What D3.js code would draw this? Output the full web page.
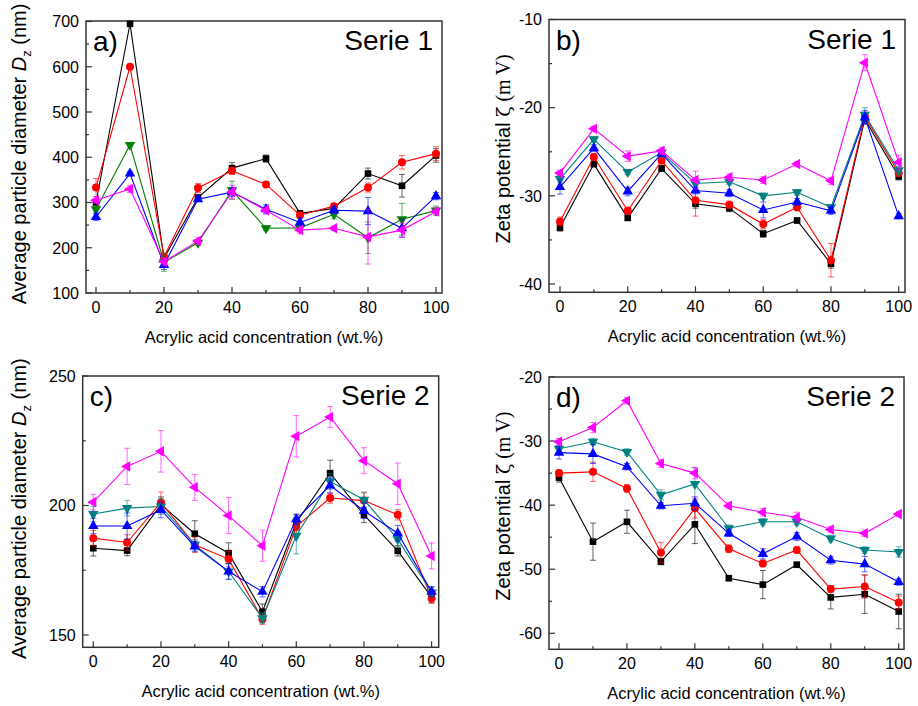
<!DOCTYPE html>
<html>
<head>
<meta charset="utf-8">
<script src="https://cdn.jsdelivr.net/npm/d3@7"></script>
<style>
  body { margin: 0; background: #fff; }
  svg { font-family: "Liberation Sans", Arial, sans-serif; }
</style>
</head>
<body>
<svg id="chart" width="918" height="706"></svg>
<script>
// acrylic acid concentration (wt.%)
const conc = [0, 10, 20, 30, 40, 50, 60, 70, 80, 90, 100]

// ---- a) Serie 1 particle diameter (nm)
const a_black = [300, 695, 177, 311, 376, 397, 276, 287, 364, 337, 404]
const a_red = [333, 600, 180, 332, 370, 340, 272, 292, 333, 389, 408]
const a_green = [285, 427, 168, 211, 327, 243, 244, 274, 222, 263, 282]
const a_blue = [268, 364, 162, 307, 323, 285, 256, 283, 281, 243, 314]
const a_magenta = [305, 330, 169, 215, 323, 283, 239, 243, 224, 239, 280]
const a_black_err = [8, 5, 5, 5, 12, 8, 6, 5, 12, 25, 15]
const a_red_err = [20, 5, 5, 10, 8, 5, 5, 5, 10, 15, 15]
const a_green_err = [8, 5, 20, 5, 20, 5, 5, 10, 35, 35, 10]
const a_blue_err = [8, 5, 10, 5, 10, 10, 10, 8, 30, 20, 8]
const a_magenta_err = [8, 8, 8, 8, 15, 8, 8, 5, 60, 15, 8]

// ---- b) Serie 1 zeta potential (mV)
const b_black = [-33.6, -26.4, -32.5, -26.9, -30.9, -31.4, -34.3, -32.8, -37.7, -21.3, -27.8]
const b_red = [-32.9, -25.6, -31.7, -26.0, -30.5, -31.0, -33.2, -31.3, -37.3, -21.0, -27.4]
const b_teal = [-28.1, -23.6, -27.3, -25.1, -28.6, -28.4, -30.0, -29.6, -31.3, -20.8, -27.1]
const b_blue = [-29.0, -24.6, -29.5, -25.2, -29.4, -29.7, -31.6, -30.7, -31.7, -21.1, -32.3]
const b_magenta = [-27.4, -22.4, -25.5, -24.9, -28.2, -27.9, -28.2, -26.4, -28.3, -14.9, -26.2]
const b_black_err = [0.4, 0.3, 0.3, 0.3, 0.5, 0.4, 0.4, 0.3, 0.5, 0.5, 0.4]
const b_red_err = [0.5, 0.4, 0.4, 0.4, 1.8, 0.4, 0.5, 0.4, 1.9, 0.5, 0.4]
const b_teal_err = [0.4, 0.3, 0.3, 0.3, 0.4, 0.3, 0.3, 0.3, 0.3, 0.8, 0.4]
const b_blue_err = [0.8, 0.4, 0.5, 0.3, 0.4, 0.4, 0.9, 0.4, 0.4, 0.8, 0.3]
const b_magenta_err = [0.3, 0.3, 0.6, 0.4, 1.0, 0.4, 0.4, 0.3, 0.4, 0.9, 0.8]

// ---- c) Serie 2 particle diameter (nm)
const c_black = [183.5, 182.6, 200.3, 189.1, 181.6, 159.0, 193.4, 212.5, 196.4, 182.5, 164.6]
const c_red = [187.4, 185.7, 201.2, 184.8, 179.3, 156.1, 191.9, 202.9, 201.9, 196.4, 164.2]
const c_teal = [196.7, 199.0, 199.6, 184.8, 174.5, 156.5, 188.3, 209.3, 202.2, 187.0, 166.4]
const c_blue = [192.1, 192.1, 198.3, 184.2, 174.5, 166.7, 194.7, 207.7, 198.0, 189.3, 166.7]
const c_magenta = [201.3, 215.1, 220.9, 207.0, 196.1, 184.5, 226.7, 234.2, 217.3, 208.4, 180.5]
const c_black_err = [3, 2, 3, 5, 4, 3, 3, 5, 3, 2, 2]
const c_red_err = [3, 3, 4, 3, 3, 2, 3, 2, 3, 2, 2]
const c_teal_err = [3, 3, 3, 2, 3, 2, 7, 3, 3, 3, 2]
const c_blue_err = [3, 5, 3, 2, 3, 2, 2, 3, 3, 3, 2]
const c_magenta_err = [3, 7, 8, 5, 7, 6, 8, 4, 5, 8, 5]

// ---- d) Serie 2 zeta potential (mV)
const d_black = [-35.7, -45.7, -42.6, -48.8, -43.0, -51.4, -52.4, -49.3, -54.4, -53.9, -56.6]
const d_red = [-35.0, -34.8, -37.4, -47.4, -40.5, -46.8, -49.1, -47.0, -53.1, -52.7, -55.2]
const d_teal = [-31.2, -30.1, -31.7, -38.4, -36.7, -43.6, -42.6, -42.6, -45.2, -47.0, -47.3]
const d_blue = [-31.8, -32.0, -34.0, -40.1, -39.7, -44.4, -47.6, -44.9, -48.6, -49.2, -52.0]
const d_magenta = [-30.1, -27.9, -23.7, -33.5, -35.0, -40.1, -41.1, -41.9, -43.8, -44.4, -41.4]
const d_black_err = [0.7, 2.9, 1.8, 0.5, 3.0, 0.4, 2.2, 0.4, 1.8, 3.0, 2.7]
const d_red_err = [0.5, 1.5, 0.6, 1.6, 1.5, 0.6, 0.5, 0.5, 0.5, 1.8, 1.0]
const d_teal_err = [0.5, 0.5, 0.5, 0.8, 2.5, 0.5, 0.5, 0.5, 0.5, 0.5, 0.8]
const d_blue_err = [1.0, 1.5, 0.5, 0.5, 1.0, 0.5, 0.8, 0.6, 0.6, 1.2, 0.5]
const d_magenta_err = [0.5, 0.8, 0.5, 0.6, 0.9, 0.5, 0.6, 0.8, 0.5, 0.5, 0.4]

const xTicks = [0, 20, 40, 60, 80, 100]
const xTitle = "Acrylic acid concentration (wt.%)"

const svg = d3.select("#chart")

// marker shapes
const sq = d3.symbol().type(d3.symbolSquare).size(44)
const ci = d3.symbol().type(d3.symbolCircle).size(50)
const tri = d3.symbol().type(d3.symbolTriangle).size(48)

function drawPanel(p) {
  var g = svg.append("g")
  var x = d3.scaleLinear().domain([0, 100]).range(p.xr)
  var y = d3.scaleLinear().domain(p.yd).range(p.yr)

  // ticks (inside the frame)
  g.selectAll(".xt").data(d3.range(0, 101, 10)).join("line").attr("class", "xt")
    .attr("x1", d => x(d)).attr("x2", d => x(d))
    .attr("y1", p.fb).attr("y2", d => p.fb - (d % 20 == 0 ? 6 : 3))
    .attr("stroke", "#333").attr("stroke-width", 1.2)
  g.selectAll(".xl").data(xTicks).join("text").attr("class", "xl")
    .attr("x", d => x(d)).attr("y", p.fb + 19.5).attr("text-anchor", "middle")
    .attr("font-size", 16).text(d => d)
  g.selectAll(".yt").data(p.minor).join("line").attr("class", "yt")
    .attr("x1", p.fl).attr("x2", d => p.fl + (p.major.includes(d) ? 6 : 3))
    .attr("y1", d => y(d)).attr("y2", d => y(d))
    .attr("stroke", "#333").attr("stroke-width", 1.2)
  g.selectAll(".yl").data(p.major).join("text").attr("class", "yl")
    .attr("x", p.fl - 7).attr("y", d => y(d)).attr("dy", "0.36em").attr("text-anchor", "end")
    .attr("font-size", 16).text(d => d)

  // frame
  g.append("rect").attr("x", p.fl).attr("y", p.ft).attr("width", p.fr - p.fl).attr("height", p.fb - p.ft)
    .attr("fill", "none").attr("stroke", "#333").attr("stroke-width", 1.5)

  // series
  var line = d3.line().x((d, i) => x(conc[i])).y(d => y(d))
  p.series.forEach(s => {
    var sg = g.append("g")
    sg.selectAll(".eb").data(s.v).join("path").attr("class", "eb")
      .attr("d", (d, i) => {
        var cx = x(conc[i]), y1 = y(d - s.e[i]), y2 = y(d + s.e[i])
        return "M" + cx + "," + y1 + "V" + y2 + "M" + (cx - 3) + "," + y1 + "H" + (cx + 3) + "M" + (cx - 3) + "," + y2 + "H" + (cx + 3)
      })
      .attr("stroke", s.c).attr("stroke-opacity", 0.6).attr("fill", "none").attr("stroke-width", 1)
    sg.append("path").datum(s.v).attr("d", line).attr("fill", "none").attr("stroke", s.c).attr("stroke-width", 1.1)
    sg.selectAll(".mk").data(s.v).join("path").attr("class", "mk")
      .attr("d", s.m)
      .attr("transform", (d, i) => "translate(" + x(conc[i]) + "," + y(d) + ") rotate(" + (s.r || 0) + ")")
      .attr("fill", s.c)
  })

  // labels
  g.append("text").attr("x", p.fl + 7).attr("y", p.ft + 30).attr("font-size", 28).text(p.letter)
  g.append("text").attr("x", p.fr - 9).attr("y", p.ft + 29).attr("font-size", 28)
    .attr("text-anchor", "end").text(p.serie)
  g.append("text").attr("x", (p.fl + p.fr) / 2).attr("y", p.fb + 50).attr("font-size", 16.5)
    .attr("text-anchor", "middle").text(xTitle)

  var yt = g.append("text")
    .attr("transform", "translate(" + p.ytx + "," + ((p.ft + p.fb) / 2 + p.ytdy) + ") rotate(-90)")
    .attr("text-anchor", "middle").attr("font-size", 20)
  if (p.kind == "size") {
    yt.append("tspan").text("Average particle diameter ")
    yt.append("tspan").attr("font-style", "italic").text("D")
    yt.append("tspan").attr("font-size", 13).attr("dy", 5).text("z")
    yt.append("tspan").attr("dy", -5).text(" (nm)")
  } else {
    yt.append("tspan").text("Zeta potential ")
    yt.append("tspan").attr("font-family", "DejaVu Serif, serif").attr("font-size", 19).text("\u03b6")
    yt.append("tspan").attr("font-family", "Liberation Serif, serif").text(" (m\u2009V)")
  }
}

const black = "#000000", red = "#ff0000", green = "#008000", teal = "#008080", blue = "#0000ff", magenta = "#ff00ff"

drawPanel({
  letter: "a)", serie: "Serie 1", kind: "size",
  fl: 86, fr: 442, ft: 21, fb: 293, xr: [96, 436], yd: [100, 700], yr: [293, 21.5], ytx: 26, ytdy: -3,
  major: [100, 200, 300, 400, 500, 600, 700], minor: d3.range(100, 701, 50),
  series: [
    { v: a_black, e: a_black_err, c: black, m: sq },
    { v: a_red, e: a_red_err, c: red, m: ci },
    { v: a_green, e: a_green_err, c: green, m: tri, r: 180 },
    { v: a_blue, e: a_blue_err, c: blue, m: tri },
    { v: a_magenta, e: a_magenta_err, c: magenta, m: tri, r: -90 }
  ]
})
drawPanel({
  letter: "b)", serie: "Serie 1", kind: "zeta",
  fl: 549, fr: 905, ft: 19.5, fb: 292.3, xr: [560, 898.7], yd: [-40, -10], yr: [284, 19.5], ytx: 510, ytdy: -7,
  major: [-40, -30, -20, -10], minor: d3.range(-40, -9, 5),
  series: [
    { v: b_black, e: b_black_err, c: black, m: sq },
    { v: b_red, e: b_red_err, c: red, m: ci },
    { v: b_teal, e: b_teal_err, c: teal, m: tri, r: 180 },
    { v: b_blue, e: b_blue_err, c: blue, m: tri },
    { v: b_magenta, e: b_magenta_err, c: magenta, m: tri, r: -90 }
  ]
})
drawPanel({
  letter: "c)", serie: "Serie 2", kind: "size",
  fl: 82.7, fr: 438.7, ft: 376, fb: 647.3, xr: [93.3, 431.6], yd: [150, 250], yr: [635, 376], ytx: 26, ytdy: -3,
  major: [150, 200, 250], minor: d3.range(150, 251, 25),
  series: [
    { v: c_black, e: c_black_err, c: black, m: sq },
    { v: c_red, e: c_red_err, c: red, m: ci },
    { v: c_teal, e: c_teal_err, c: teal, m: tri, r: 180 },
    { v: c_blue, e: c_blue_err, c: blue, m: tri },
    { v: c_magenta, e: c_magenta_err, c: magenta, m: tri, r: -90 }
  ]
})
drawPanel({
  letter: "d)", serie: "Serie 2", kind: "zeta",
  fl: 549, fr: 904, ft: 377, fb: 649.3, xr: [559, 898.7], yd: [-60, -20], yr: [633.3, 377], ytx: 510, ytdy: -7,
  major: [-60, -50, -40, -30, -20], minor: d3.range(-60, -19, 5),
  series: [
    { v: d_black, e: d_black_err, c: black, m: sq },
    { v: d_red, e: d_red_err, c: red, m: ci },
    { v: d_teal, e: d_teal_err, c: teal, m: tri, r: 180 },
    { v: d_blue, e: d_blue_err, c: blue, m: tri },
    { v: d_magenta, e: d_magenta_err, c: magenta, m: tri, r: -90 }
  ]
})
</script>
</body>
</html>
